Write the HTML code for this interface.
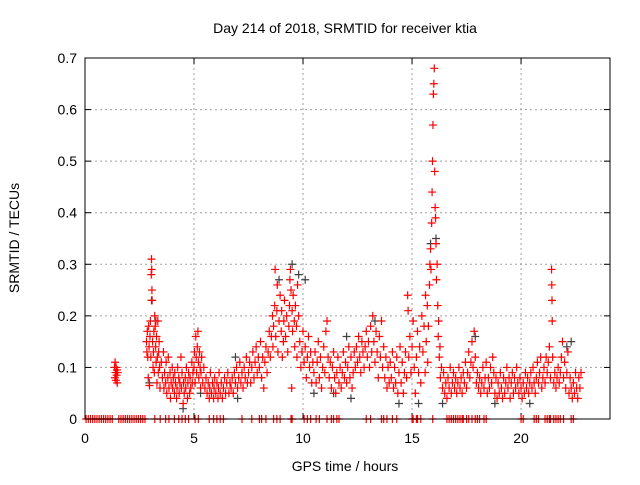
<!DOCTYPE html>
<html><head><meta charset="utf-8"><style>
html,body{margin:0;padding:0;background:#fff;}
svg text{font-family:"Liberation Sans",sans-serif;font-size:14px;fill:#000;}
</style></head><body>
<svg id="chart" width="640" height="480" xmlns="http://www.w3.org/2000/svg">
<rect width="640" height="480" fill="#fff"/>
<text x="345" y="33" text-anchor="middle">Day 214 of 2018, SRMTID for receiver ktia</text>
<text x="345" y="471" text-anchor="middle">GPS time / hours</text>
<text transform="translate(19,238) rotate(-90)" text-anchor="middle">SRMTID / TECUs</text>
<g id="grid"></g><g id="ticks"></g><g id="gray"></g><g id="red"></g>
<rect x="85" y="58" width="525" height="361" fill="none" stroke="#000" stroke-width="1"/>
</svg>
<script>
const xTicks=[0,5,10,15,20];
const yTicks=[0,0.1,0.2,0.3,0.4,0.5,0.6,0.7];
const yTickLabels=["0","0.1","0.2","0.3","0.4","0.5","0.6","0.7"];
const redPts=[[1.35,.10],[1.37,.08],[1.38,.11],[1.40,.09],[1.42,.075],[1.43,.10],[1.45,.085],[1.47,.095],[1.48,.07],[1.50,.09],
[2.82,.15],[2.84,.13],[2.86,.17],[2.88,.12],[2.9,.08],[2.92,.18],[2.94,.14],[2.96,.065],[2.98,.16],[3.0,.19],[3.02,.12],[3.04,.28],[3.05,.31],[3.06,.29],[3.07,.25],[3.08,.23],[3.1,.15],[3.12,.1],[3.14,.13],[3.16,.17],[3.18,.09],[3.2,.2],[3.22,.18],[3.24,.14],[3.26,.11],[3.28,.16],[3.3,.07],[3.32,.12],[3.34,.19],[3.36,.09],[3.38,.13],[3.4,.15],[3.42,.1],[3.44,.06],
[3.5,.11],[3.55,.08],[3.6,.13],[3.62,.06],[3.65,.09],[3.7,.07],[3.72,.11],[3.75,.05],[3.8,.08],[3.82,.12],[3.85,.06],[3.9,.09],[3.92,.04],[3.95,.07],[4.0,.1],[4.02,.06],[4.05,.08],[4.1,.05],[4.12,.09],[4.15,.07],[4.2,.04],[4.22,.06],[4.25,.1],[4.3,.08],[4.32,.05],[4.35,.07],[4.4,.12],[4.42,.06],[4.45,.09],[4.5,.03],[4.52,.07],[4.55,.05],[4.6,.08],[4.62,.06],[4.65,.1],[4.7,.04],[4.72,.07],[4.75,.09],[4.8,.05],[4.82,.08],[4.85,.06],[4.9,.11],[4.92,.07],[4.95,.09],
[5.0,.1],[5.02,.13],[5.05,.07],[5.08,.16],[5.1,.12],[5.12,.09],[5.15,.14],[5.18,.17],[5.2,.11],[5.22,.08],[5.25,.13],[5.28,.1],[5.3,.06],[5.32,.09],[5.35,.12],[5.4,.07],[5.45,.1],[5.5,.06],
[5.55,.08],[5.6,.05],[5.65,.07],[5.7,.04],[5.72,.06],[5.75,.09],[5.8,.05],[5.85,.07],[5.9,.04],[5.92,.06],[5.95,.08],[6.0,.05],[6.05,.07],[6.1,.04],[6.12,.06],[6.15,.09],[6.2,.05],[6.25,.07],[6.3,.04],[6.35,.06],[6.4,.08],[6.45,.05],[6.5,.07],[6.55,.09],[6.6,.05],[6.65,.07],[6.7,.06],[6.75,.08],[6.8,.05],[6.85,.09],[6.9,.07],[6.95,.1],[7.0,.06],[7.05,.08],[7.1,.11],[7.15,.07],[7.2,.09],[7.25,.06],[7.3,.1],[7.35,.08],[7.4,.12],[7.45,.07],
[7.5,.09],[7.55,.11],[7.6,.07],[7.65,.1],[7.7,.13],[7.75,.08],[7.8,.11],[7.85,.14],[7.9,.09],[7.95,.12],[8.0,.1],[8.05,.15],[8.1,.08],[8.15,.12],[8.2,.06],[8.25,.11],[8.3,.14],[8.35,.09],[8.4,.13],[8.45,.17],
[8.5,.12],[8.55,.16],[8.6,.2],[8.62,.14],[8.65,.18],[8.7,.22],[8.72,.29],[8.75,.16],[8.8,.21],[8.82,.26],[8.85,.13],[8.9,.19],[8.95,.24],[9.0,.17],[9.02,.21],[9.05,.12],[9.1,.15],[9.12,.19],[9.15,.23],[9.2,.16],[9.25,.2],[9.3,.13],[9.35,.18],[9.38,.22],[9.4,.27],[9.42,.29],[9.45,.25],[9.48,.06],[9.5,.21],[9.52,.17],[9.55,.24],[9.6,.19],[9.62,.14],[9.65,.22],[9.7,.18],[9.72,.12],[9.75,.26],[9.8,.2],[9.85,.15],[9.9,.1],[9.95,.13],[10.0,.17],[10.05,.11],[10.1,.14],[10.15,.08],[10.2,.12],[10.25,.16],[10.3,.1],[10.35,.13],[10.4,.07],[10.45,.11],
[10.5,.09],[10.55,.13],[10.6,.07],[10.65,.11],[10.7,.15],[10.75,.08],[10.8,.12],[10.85,.06],[10.9,.1],[10.95,.14],[11.0,.09],[11.05,.17],[11.1,.19],[11.15,.12],[11.2,.08],[11.25,.11],[11.3,.06],[11.35,.1],[11.4,.13],[11.45,.08],[11.5,.05],[11.55,.09],[11.6,.12],[11.65,.07],[11.7,.1],[11.75,.06],[11.8,.09],[11.85,.13],[11.9,.08],[11.95,.11],[12.0,.07],[12.05,.1],[12.1,.14],[12.15,.08],[12.2,.12],[12.25,.06],[12.3,.09],[12.35,.13],[12.4,.1],[12.45,.14],[12.5,.11],[12.55,.16],[12.6,.12],[12.65,.09],[12.7,.15],[12.75,.13],[12.8,.1],[12.85,.14],[12.9,.17],[12.95,.12],[13.0,.15],[13.05,.1],[13.1,.18],[13.15,.13],[13.2,.2],[13.25,.15],[13.3,.11],[13.35,.17],[13.4,.13],[13.45,.08],[13.5,.16],[13.55,.12],[13.6,.19],[13.65,.1],[13.7,.14],[13.75,.08],[13.8,.12],[13.85,.06],[13.9,.1],[13.95,.07],
[14.0,.11],[14.05,.08],[14.1,.13],[14.15,.06],[14.2,.1],[14.25,.07],[14.3,.12],[14.35,.05],[14.4,.09],[14.45,.14],[14.5,.07],[14.55,.11],[14.6,.05],[14.65,.09],[14.7,.13],[14.75,.08],[14.8,.24],[14.82,.21],[14.85,.12],[14.9,.16],[14.95,.09],[15.0,.14],[15.05,.19],[15.1,.1],[15.15,.05],[15.2,.12],[15.25,.17],[15.3,.09],[15.35,.14],[15.4,.07],[15.45,.2],
[15.5,.13],[15.55,.18],[15.6,.09],[15.62,.24],[15.65,.15],[15.7,.22],[15.72,.11],[15.75,.18],[15.8,.26],[15.82,.3],[15.85,.33],[15.87,.29],[15.9,.38],[15.92,.44],[15.94,.5],[15.96,.57],[15.98,.63],[16.0,.65],[16.02,.68],[16.04,.48],[16.06,.41],[16.08,.39],[16.1,.34],[16.12,.27],[16.15,.3],[16.18,.22],[16.2,.16],[16.22,.19],[16.25,.12],[16.28,.14],
[16.3,.08],[16.35,.1],[16.4,.06],[16.45,.09],[16.5,.05],[16.55,.07],[16.6,.04],[16.65,.08],[16.7,.06],[16.75,.1],[16.8,.05],[16.85,.07],[16.9,.09],[16.95,.06],
[17.0,.08],[17.05,.05],[17.1,.07],[17.15,.1],[17.2,.06],[17.25,.08],[17.3,.05],[17.35,.09],[17.4,.07],[17.45,.11],[17.5,.06],[17.55,.09],[17.6,.13],[17.65,.08],[17.7,.11],[17.75,.15],[17.8,.1],[17.85,.17],[17.9,.12],[17.95,.07],[18.0,.09],[18.05,.06],[18.1,.08],[18.15,.05],[18.2,.07],[18.25,.1],[18.3,.06],[18.35,.08],[18.4,.11],[18.45,.05],[18.5,.08],[18.55,.06],[18.6,.1],[18.65,.07],[18.7,.12],[18.75,.09],[18.8,.05],[18.85,.08],[18.9,.04],[18.95,.07],[19.0,.05],[19.05,.09],[19.1,.06],[19.15,.04],[19.2,.08],[19.25,.05],[19.3,.07],[19.35,.1],[19.4,.06],[19.45,.08],[19.5,.04],[19.55,.07],[19.6,.09],[19.65,.05],[19.7,.08],[19.75,.06],[19.8,.1],[19.85,.07],[19.9,.05],[19.95,.08],[20.0,.06],[20.05,.04],[20.1,.07],[20.15,.05],[20.2,.09],[20.25,.06],[20.3,.08],[20.35,.05],[20.4,.07],[20.45,.09],[20.5,.06],[20.55,.1],[20.6,.07],[20.65,.05],[20.7,.08],[20.75,.11],[20.8,.07],[20.85,.09],[20.9,.12],[20.95,.06],
[21.0,.08],[21.05,.1],[21.1,.07],[21.15,.12],[21.2,.09],[21.25,.11],[21.3,.14],[21.35,.08],[21.4,.29],[21.41,.26],[21.42,.23],[21.43,.19],[21.45,.12],
[21.5,.07],[21.55,.09],[21.6,.06],[21.65,.08],[21.7,.1],[21.75,.07],[21.8,.09],[21.85,.12],[21.9,.15],[21.95,.08],[22.0,.11],[22.05,.06],[22.1,.09],[22.15,.13],[22.2,.05],[22.25,.08],[22.3,.06],[22.35,.04],[22.4,.07],[22.45,.05],[22.5,.09],[22.55,.06],[22.6,.04],[22.65,.08],[22.7,.06],[22.75,.09]];
const redZeroTimes=[0.05,0.15,0.25,0.35,0.45,0.55,0.65,0.75,0.85,0.95,1.05,1.15,1.25,1.55,1.65,1.75,1.85,1.95,2.05,2.15,2.25,2.35,2.45,2.55,2.65,2.75,3.2,3.45,3.7,3.85,4.1,4.3,4.45,4.6,4.75,5.05,5.2,5.7,5.9,6.05,6.2,6.35,7.2,7.65,8.0,8.1,8.3,8.65,8.8,8.95,9.45,9.5,10.05,10.2,10.35,10.6,10.75,11.1,11.3,11.4,11.55,11.65,12.9,13.1,13.6,13.7,13.85,14.1,14.3,15.0,15.05,15.2,15.25,15.4,15.95,16.6,16.7,16.8,16.9,17.0,17.1,17.2,17.3,17.35,17.5,17.6,17.75,17.9,18.0,18.1,18.3,18.4,20.0,20.1,20.6,20.7,20.8,21.1,21.2,21.3,21.35,21.5,21.6,21.7,21.8,21.95,22.3,22.4];
const grayPts=[[2.95,.07],[3.05,.23],[3.25,.19],[4.5,.02],[5.3,.05],[7.0,.04],[8.9,.27],[9.5,.30],[9.8,.28],[10.1,.27],[10.5,.05],[11.4,.05],[12.2,.04],[13.3,.19],[14.4,.03],[15.3,.03],[15.85,.34],[16.1,.35],[16.4,.03],[18.8,.03],[20.4,.03],[22.3,.15],[22.1,.14],[17.9,.16],[6.9,.12],[12.0,.16]];
const X0=85,X1=610,Y0=419,Y1=58,XMAX=24.08,YMAX=0.7;
function xs(t){return X0+(X1-X0)*t/XMAX;}
function ys(v){return Y0-(Y0-Y1)*v/YMAX;}
const NS="http://www.w3.org/2000/svg";
function mk(tag,attrs,parent){const e=document.createElementNS(NS,tag);for(const k in attrs)e.setAttribute(k,attrs[k]);parent.appendChild(e);return e;}
const grid=document.getElementById('grid'),ticks=document.getElementById('ticks');
xTicks.forEach(t=>{const x=xs(t);
 if(t>0){const g=mk('line',{x1:x,y1:Y1,x2:x,y2:Y0,stroke:'#a0a0a0','stroke-dasharray':'2,3'},grid);
 
 }
 mk('line',{x1:x,y1:Y0,x2:x,y2:Y0-6,stroke:'#000'},ticks);
 mk('line',{x1:x,y1:Y1,x2:x,y2:Y1+6,stroke:'#000'},ticks);
 const l=mk('text',{x:x,y:443,'text-anchor':'middle'},ticks);l.textContent=String(t);
 
 
});
yTicks.forEach((v,i)=>{const y=ys(v);
 if(v>0){const g=mk('line',{x1:X0,y1:y,x2:X1,y2:y,stroke:'#a0a0a0','stroke-dasharray':'2,3'},grid);
 
 }
 mk('line',{x1:X0,y1:y,x2:X0+6,y2:y,stroke:'#000'},ticks);
 mk('line',{x1:X1,y1:y,x2:X1-6,y2:y,stroke:'#000'},ticks);
 const l=mk('text',{x:77,y:y+5,'text-anchor':'end'},ticks);l.textContent=yTickLabels[i];
 
 
});
function plus(x,y,color,parent,name){
 const p=mk('path',{d:`M${x-4},${y}h8M${x},${y-4}v8`,stroke:color,'stroke-width':1.2,fill:'none'},parent);
 
 
}
const gG=document.getElementById('gray'),gR=document.getElementById('red');
grayPts.forEach(p=>plus(xs(p[0]),ys(p[1]),'#404040',gG,'gray-point'));
redZeroTimes.forEach(t=>plus(xs(t),ys(0),'#ff0000',gR,'zero-point'));
redPts.forEach(p=>plus(xs(p[0]),ys(p[1]),'#ff0000',gR,'red-point'));
</script>
</body></html>
